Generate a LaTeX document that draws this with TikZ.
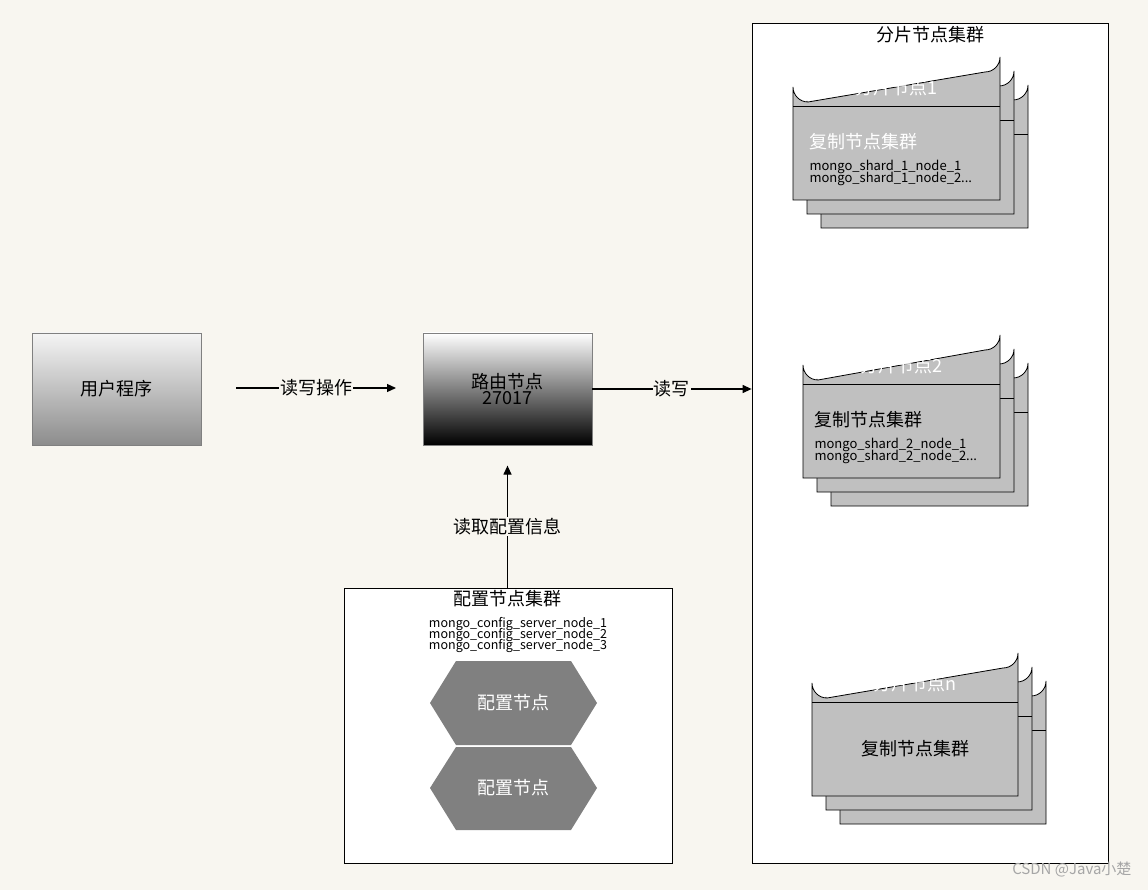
\documentclass[tikz,border=0pt]{standalone}
\usepackage{fontspec}
\setmainfont{Noto Sans CJK SC}
\usetikzlibrary{arrows.meta}
\definecolor{bg}{HTML}{F8F6F0}
\definecolor{shard}{HTML}{C0C0C0}
\definecolor{hexc}{HTML}{808080}
\tikzset{
  fs/.style={font=\fontsize{#1}{#1}\selectfont},
  arr/.style={draw, line width=1.2pt, -{Triangle[length=9pt,width=8pt]}},
  lbl/.style={fill=bg, inner sep=1pt, fs=18},
  shardbox/.style={draw, line width=0.8pt, fill=shard},
  hex/.style={fill=hexc, draw=none},
}
\newcommand{\shardstack}[5]{% x1 y1 x2 y2 name
  \foreach \k in {2,1,0}{
    \pgfmathsetmacro{\dx}{14*\k}
    \path[shardbox] (#1+\dx,#4+\dx) -- (#1+\dx,#2+15+\dx) arc[start angle=180,end angle=90,radius=15]
      -- (#3-15+\dx,#2+\dx) arc[start angle=90,end angle=0,radius=15] -- (#3+\dx,#4+\dx) -- cycle;
    \draw[line width=0.8pt] (#1+\dx,#2+34+\dx) -- (#3+\dx,#2+34+\dx);
  }
}
\begin{document}
\begin{tikzpicture}[x=1pt,y=-1pt]
\fill[bg] (0,0) rectangle (1148,890);
\useasboundingbox (0,0) rectangle (1148,890);
% user
\node[draw=gray, line width=0.5pt, minimum width=169pt, minimum height=112pt, top color=gray!8, bottom color=gray!90, inner sep=0, fs=18] (user) at (116.5,389) {用户程序};
\node[draw=gray, line width=0.5pt, minimum width=169pt, minimum height=112pt, top color=white, bottom color=black, inner sep=0, fs=18, align=center] (router) at (507.5,389) {路由节点\\[-2pt]27017};
% config cluster
\node[draw, fill=white, line width=0.8pt, minimum width=328pt, minimum height=275pt, inner sep=0] (cfg) at (508,725.5) {};
\node[fs=18] (cfgt) at (507,599) {配置节点集群};
\node[fs=12.5, align=center] (cfgn) at (518,635) {mongo\_config\_server\_node\_1\\[-3pt]mongo\_config\_server\_node\_2\\[-3pt]mongo\_config\_server\_node\_3};
\path[hex] (456,661) -- (571,661) -- (597,703) -- (571,745) -- (456,745) -- (430,703) -- cycle;
\path[hex] (456,747) -- (571,747) -- (597,788) -- (571,830) -- (456,830) -- (430,788) -- cycle;
\node[fs=18, text=white] (h1) at (513,703) {配置节点};
\node[fs=18, text=white] (h2) at (513,788) {配置节点};
% shard cluster
\node[draw, fill=white, line width=0.8pt, minimum width=356pt, minimum height=840pt, inner sep=0] (sc) at (930,443) {};
\node[fs=18] (sct) at (930,35) {分片节点集群};
\shardstack{793}{72}{1000}{200}{s1}
\shardstack{803}{350}{1000}{478}{s2}
\shardstack{812}{668}{1018}{796}{sn}
\node[fs=18, text=white] (s1t) at (896,88) {分片节点1};
\node[fs=18, text=white, anchor=west] (s1a) at (806,142) {复制节点集群};
\node[fs=13, anchor=west, align=left] (s1b) at (806,173) {mongo\_shard\_1\_node\_1\\[-3pt]mongo\_shard\_1\_node\_2...};
\node[fs=18, text=white] (s2t) at (901,366) {分片节点2};
\node[fs=18, anchor=west] (s2a) at (811,420) {复制节点集群};
\node[fs=13, anchor=west, align=left] (s2b) at (811,451) {mongo\_shard\_2\_node\_1\\[-3pt]mongo\_shard\_2\_node\_2...};
\node[fs=18, text=white] (snt) at (915,684) {分片节点n};
\node[fs=18] (sna) at (915,749) {复制节点集群};
\node[fs=18] at (866,142) {};
% arrows
\coordinate (a1) at (236,388);
\coordinate (a2) at (396,388);
\draw[arr] (a1) -- node[lbl]{读写操作} (a2);
\draw[arr] (router.east) -- node[lbl]{读写} (sc.west |- router.east);
\draw[arr] (cfg.north -| router.south) -- node[lbl]{读取配置信息} ++(0,-122);
\node[fs=15, text=gray!70, anchor=east] (wm) at (1135,869) {CSDN @Java小楚};
\end{tikzpicture}
\end{document}
